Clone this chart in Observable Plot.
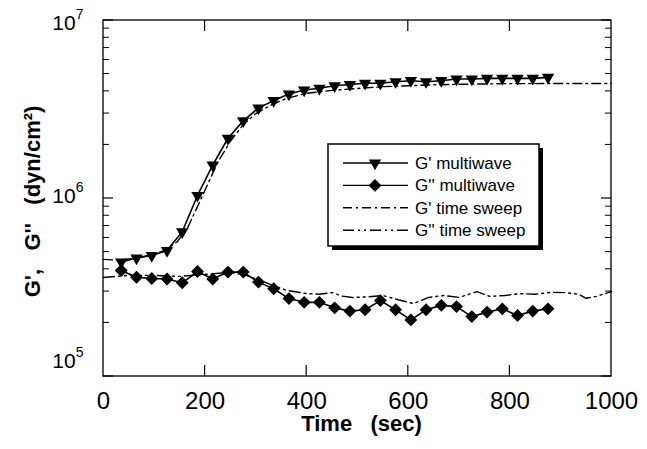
<!DOCTYPE html>
<html><head><meta charset="utf-8">
<script src="https://cdn.jsdelivr.net/npm/d3@7"></script>
<script src="https://cdn.jsdelivr.net/npm/@observablehq/plot@0.6"></script>
<style>
body{margin:0;background:#fff;}
#wrap{position:relative;width:647px;height:449px;}
#overlay{position:absolute;left:0;top:0;pointer-events:none;}
</style></head><body><div id="wrap"></div>
<script>
// ---- data ----
const multiTime = [35,65,95,125,155,185,215,245,275,305,335,365,395,425,455,485,515,545,575,605,635,665,695,725,755,785,815,845,875];
const gPrimeMulti = [4.40e5,4.63e5,4.78e5,5.10e5,6.50e5,1.04e6,1.54e6,2.18e6,2.73e6,3.22e6,3.55e6,3.86e6,4.07e6,4.16e6,4.30e6,4.37e6,4.44e6,4.44e6,4.53e6,4.59e6,4.53e6,4.59e6,4.69e6,4.69e6,4.73e6,4.73e6,4.73e6,4.73e6,4.79e6];
const gDoublePrimeMulti = [3.94e5,3.61e5,3.55e5,3.53e5,3.36e5,3.89e5,3.53e5,3.86e5,3.86e5,3.39e5,3.11e5,2.74e5,2.61e5,2.61e5,2.43e5,2.33e5,2.37e5,2.67e5,2.37e5,2.08e5,2.37e5,2.51e5,2.47e5,2.17e5,2.30e5,2.40e5,2.20e5,2.33e5,2.40e5];
const sweepTimeGp = [0,30,60,90,120,145,165,185,205,225,250,275,300,330,360,400,450,500,550,600,650,700,750,800,850,900,950,1000];
const gPrimeSweep = [4.55e5,4.5e5,4.6e5,4.8e5,5.1e5,5.7e5,6.8e5,9.0e5,1.2e6,1.6e6,2.1e6,2.6e6,3.0e6,3.35e6,3.65e6,3.9e6,4.05e6,4.15e6,4.25e6,4.3e6,4.35e6,4.38e6,4.4e6,4.42e6,4.42e6,4.43e6,4.43e6,4.43e6];
const sweepTimeGpp = [0,50,100,150,200,250,280,310,335,360,400,425,450,470,490,520,550,580,610,640,670,700,735,760,790,820,850,880,910,935,950,970,1000];
const gDoublePrimeSweep = [3.6e5,3.7e5,3.7e5,3.65e5,3.75e5,3.85e5,3.7e5,3.45e5,3.24e5,3.05e5,2.92e5,2.9e5,2.96e5,2.83e5,2.78e5,2.8e5,2.85e5,2.7e5,2.57e5,2.78e5,2.85e5,2.78e5,3.0e5,2.82e5,2.85e5,2.92e5,2.9e5,2.97e5,2.96e5,2.9e5,2.75e5,2.82e5,3.0e5];
const xTickLabels = [0,200,400,600,800,1000];
const xInnerTicks = [200,400,600,800];
const xDomain = [0, 1000];
const yDomain = [1e5, 1e7];
const yMajor = [1e5,1e6,1e7];
const yMinor = [2e5,3e5,4e5,5e5,6e5,7e5,8e5,9e5,2e6,3e6,4e6,5e6,6e6,7e6,8e6,9e6];
const legendLabels = ["G' multiwave","G'' multiwave","G' time sweep","G'' time sweep"];
const xTitle = "Time   (sec)";
const yTitle = "G',   G''   (dyn/cm²)";

const multiGp = multiTime.map((t,i)=>({t, v:gPrimeMulti[i]}));
const multiGpp = multiTime.map((t,i)=>({t, v:gDoublePrimeMulti[i]}));
const sweepGp = sweepTimeGp.map((t,i)=>({t, v:gPrimeSweep[i]}));
const sweepGpp = sweepTimeGpp.map((t,i)=>({t, v:gDoublePrimeSweep[i]}));

const FONT = "'Liberation Sans', Arial, Helvetica, sans-serif";
const dashGp = "9,4,2,4";
const dashGpp = "11,4,2,4,2,4";
const W = 647, H = 449, ML = 103, MR = 36, MT = 20, MB = 73;

const chart = Plot.plot({
  width: W, height: H,
  marginLeft: ML, marginRight: MR, marginTop: MT, marginBottom: MB,
  style: {fontFamily: FONT, color: "#000", background: "#fff", overflow: "visible"},
  x: {domain: xDomain},
  y: {type: "log", domain: yDomain},
  marks: [
    Plot.axisX(xTickLabels, {anchor: "bottom", tickSize: 0, tickPadding: 15, fontSize: 24, label: null, tickFormat: d => String(d)}),
    Plot.axisY(yMajor, {anchor: "left", tickSize: 0, tickPadding: 20, fontSize: 21, label: null,
      tickFormat: d => String(Math.round(Math.log10(d)))}),
    Plot.text([xTitle], {frameAnchor: "bottom", lineAnchor: "middle", textAnchor: "middle", dy: 47, dx: 4, fontSize: 22, fontWeight: "bold", fill: "#000"}),
    Plot.text([yTitle], {frameAnchor: "left", lineAnchor: "middle", textAnchor: "middle", rotate: -90, dx: -71, dy: 3, fontSize: 22, fontWeight: "bold", fill: "#000"}),
    Plot.line(sweepGp, {x: "t", y: "v", stroke: "#000", strokeWidth: 1.4, strokeDasharray: dashGp}),
    Plot.line(sweepGpp, {x: "t", y: "v", stroke: "#000", strokeWidth: 1.4, strokeDasharray: dashGpp}),
    Plot.line(multiGp, {x: "t", y: "v", stroke: "#000", strokeWidth: 1.6}),
    Plot.line(multiGpp, {x: "t", y: "v", stroke: "#000", strokeWidth: 1.6}),
    Plot.dot(multiGp, {x: "t", y: "v", symbol: "triangle", r: 4.6, rotate: 180, fill: "#000", stroke: "none"}),
    Plot.dot(multiGpp, {x: "t", y: "v", symbol: "diamond2", r: 5.8, fill: "#000", stroke: "none"})
  ]
});

const svg = d3.select(chart);
const labelShift = {"5": -8.5, "6": 4.5, "7": 9.5};
svg.selectAll('g[aria-label="y-axis tick label"] text').each(function() {
  const e = this.textContent;
  if (!(e in labelShift)) return;
  const t = d3.select(this);
  t.text("10").attr("y", null).attr("dy", labelShift[e]);
  t.append("tspan").attr("font-size", 14).attr("dy", -11).text(e);
});

// legend box
const lg = svg.append("g").attr("font-family", FONT).attr("font-size", 17).attr("text-anchor", "start");
const bx = 328, by = 144, bw = 211, bh = 102;
lg.append("rect").attr("x", bx + 4).attr("y", by + 4).attr("width", bw).attr("height", bh).attr("fill", "#000");
lg.append("rect").attr("x", bx).attr("y", by).attr("width", bw).attr("height", bh).attr("fill", "#fff").attr("stroke", "#000").attr("stroke-width", 1.5);
const dashes = [null, null, dashGp, dashGpp];
const syms = [d3.symbol(d3.symbolTriangle, Math.PI*4.6*4.6)(), d3.symbol(d3.symbolDiamond2, Math.PI*5.8*5.8)(), null, null];
legendLabels.forEach((lab, i) => {
  const yy = by + 19 + i * 22.4;
  lg.append("line").attr("x1", bx + 15).attr("x2", bx + 80).attr("y1", yy).attr("y2", yy)
    .attr("stroke", "#000").attr("stroke-width", 1.4).attr("stroke-dasharray", dashes[i]);
  if (syms[i]) lg.append("path").attr("d", syms[i]).attr("fill", "#000")
    .attr("transform", `translate(${bx + 47},${yy}) rotate(${i === 0 ? 180 : 0})`);
  lg.append("text").attr("x", bx + 87).attr("y", yy).attr("dy", "0.35em").attr("fill", "#000").attr("text-anchor", "start").text(lab);
});

const wrap = document.getElementById("wrap");
wrap.appendChild(chart);

// frame and inward ticks in an overlay, using the same scale domains/ranges as the chart
const X = d3.scaleLinear(xDomain, [ML, W - MR]);
const Y = d3.scaleLog(yDomain, [H - MB, MT]);
const ov = d3.select(wrap).append("svg").attr("id", "overlay").attr("width", W).attr("height", H)
  .append("g").attr("stroke", "#000").attr("fill", "none");
const x0 = X(xDomain[0]), x1 = X(xDomain[1]), y0 = Y(yDomain[0]), y1 = Y(yDomain[1]);
ov.append("rect").attr("x", x0).attr("y", y1).attr("width", x1 - x0).attr("height", y0 - y1).attr("stroke-width", 1.3);
const seg = (a, b, c, d, w) => ov.append("line").attr("x1", a).attr("y1", b).attr("x2", c).attr("y2", d).attr("stroke-width", w);
xInnerTicks.forEach(v => { seg(X(v), y0, X(v), y0 - 11, 1.2); seg(X(v), y1, X(v), y1 + 11, 1.2); });
yMajor.forEach(v => { seg(x0, Y(v), x0 + 10, Y(v), 1.2); seg(x1, Y(v), x1 - 10, Y(v), 1.2); });
yMinor.forEach(v => { seg(x0, Y(v), x0 + 6, Y(v), 1); seg(x1, Y(v), x1 - 6, Y(v), 1); });
</script></body></html>
